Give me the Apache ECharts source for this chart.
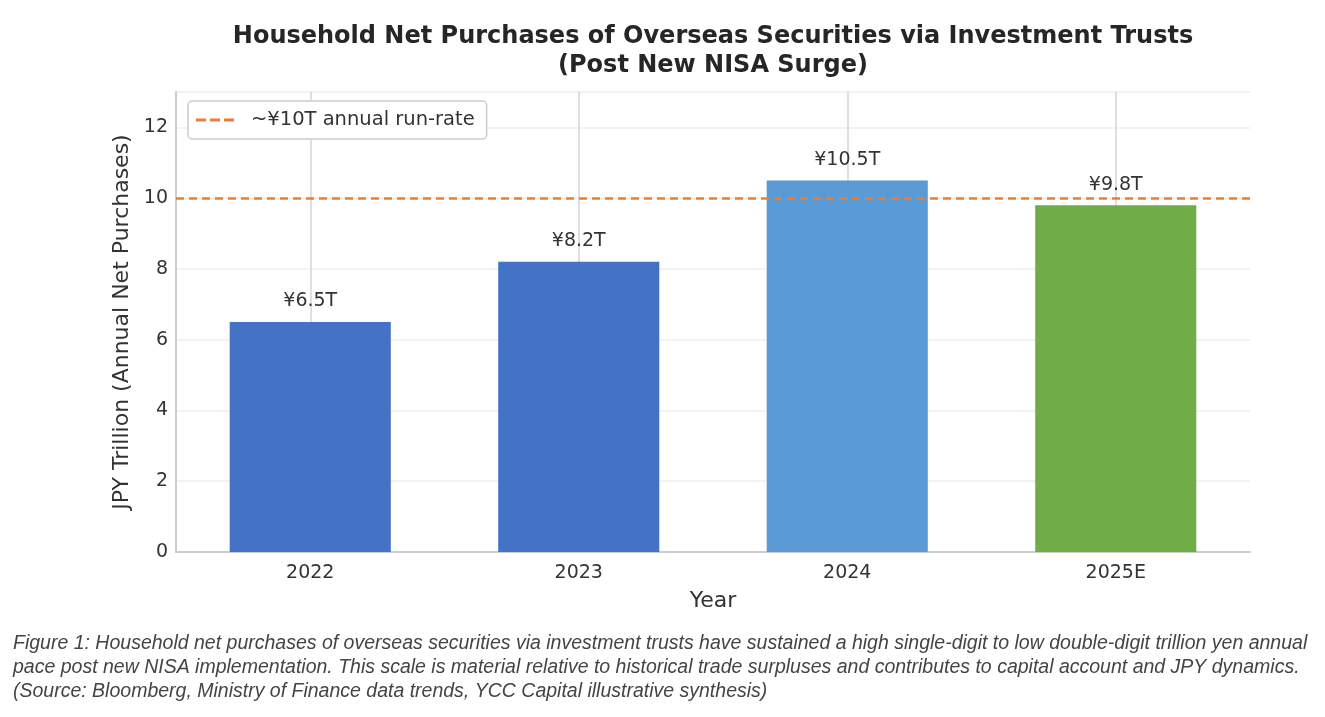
<!DOCTYPE html>
<html>
<head>
<meta charset="utf-8">
<script src="https://cdn.jsdelivr.net/npm/echarts@6/dist/echarts.min.js"></script>
<style>
  html, body { margin: 0; padding: 0; background: #fff; }
  #chart { width: 1325px; height: 717px; }
</style>
</head>
<body>
<div id="chart"></div>
<script>
// data
const years = ['2022', '2023', '2024', '2025E'];
const purchases = [6.5, 8.2, 10.5, 9.8];
const barColors = ['#4472C4', '#4472C4', '#5B9BD5', '#70AD47'];
const runRate = 10;
const runRateName = '~¥10T annual run-rate';
const yTicks = [0, 2, 4, 6, 8, 10, 12];

const caption = [
  'Figure 1: Household net purchases of overseas securities via investment trusts have sustained a high single-digit to low double-digit trillion yen annual',
  'pace post new NISA implementation. This scale is material relative to historical trade surpluses and contributes to capital account and JPY dynamics.',
  '(Source: Bloomberg, Ministry of Finance data trends, YCC Capital illustrative synthesis)'
].join('\n');

const font = 'DejaVu Sans';

const chart = echarts.init(document.getElementById('chart'), null, { renderer: 'canvas' });

const option = {
  backgroundColor: '#fff',
  animation: false,
  textStyle: { fontFamily: font },
  title: {
    text: 'Household Net Purchases of Overseas Securities via Investment Trusts\n(Post New NISA Surge)',
    left: 708,
    top: 17,
    textAlign: 'center',
    textStyle: { fontFamily: font, fontSize: 24, fontWeight: 'bold', color: '#262626', lineHeight: 29 }
  },
  legend: {
    left: 188,
    top: 101,
    padding: [9, 12, 9, 8],
    itemWidth: 38,
    itemHeight: 3,
    itemGap: 10,
    backgroundColor: '#fff',
    borderColor: '#cccccc',
    borderWidth: 1.5,
    borderRadius: 4,
    textStyle: { fontFamily: font, fontSize: 19.5, color: '#333', padding: [0, 0, 0, 12] },
    data: [{ name: runRateName, icon: 'path://M0,0H10V3H0Z M14,0H24V3H14Z M28,0H38V3H28Z' }]
  },
  grid: { left: 176, right: 75, top: 92, bottom: 165 },
  xAxis: {
    type: 'category',
    data: years,
    name: 'Year',
    nameLocation: 'middle',
    nameGap: 38,
    nameTextStyle: { fontFamily: font, fontSize: 22, color: '#333' },
    axisLine: { lineStyle: { color: '#cccccc', width: 2 } },
    axisTick: { show: false },
    axisLabel: { fontFamily: font, fontSize: 19, color: '#333', margin: 12 },
    splitLine: { show: false }
  },
  yAxis: {
    type: 'value',
    min: 0,
    max: 13,
    interval: 2,
    name: 'JPY Trillion (Annual Net Purchases)',
    nameLocation: 'middle',
    nameGap: 40,
    nameTextStyle: { fontFamily: font, fontSize: 22, color: '#333' },
    axisLine: { show: true, lineStyle: { color: '#cccccc', width: 2 } },
    axisTick: { show: false },
    axisLabel: {
      fontFamily: font, fontSize: 19, color: '#333', margin: 8,
      formatter: v => (yTicks.indexOf(v) >= 0 ? String(v) : '')
    },
    splitLine: { lineStyle: { color: '#eeeeee', width: 1.5 } }
  },
  series: [
    {
      // vertical guide lines at each category, drawn behind the bars
      name: 'guides',
      type: 'line',
      data: [],
      z: 1,
      silent: true,
      markLine: {
        z: 1,
        symbol: 'none',
        silent: true,
        label: { show: false },
        lineStyle: { color: '#d4d4d4', width: 1.5, type: 'solid' },
        data: years.map(y => ({ xAxis: y }))
      }
    },
    {
      name: 'Net purchases',
      type: 'bar',
      z: 10,
      barWidth: '60%',
      data: purchases.map((v, i) => ({ value: v, itemStyle: { color: barColors[i] } })),
      label: {
        show: true,
        position: 'top',
        distance: 11,
        fontFamily: font,
        fontSize: 19,
        color: '#333',
        formatter: p => '¥' + p.value.toFixed(1) + 'T'
      }
    },
    {
      name: runRateName,
      type: 'line',
      data: [],
      z: 12,
      symbol: 'none',
      color: '#ED7D31',
      lineStyle: { color: '#ED7D31', width: 2.5, type: [8, 5] },
      markLine: {
        z: 12,
        symbol: 'none',
        silent: true,
        label: { show: false },
        lineStyle: { color: '#ED7D31', width: 2.5, type: [8, 5] },
        data: [{ yAxis: runRate }]
      }
    }
  ],
  graphic: [
    {
      type: 'text',
      left: 13,
      top: 632,
      style: {
        text: caption,
        font: 'italic 19.5px "Liberation Sans", Arial, sans-serif',
        fill: '#444',
        lineHeight: 24
      }
    }
  ]
};

chart.setOption(option);
</script>
</body>
</html>
